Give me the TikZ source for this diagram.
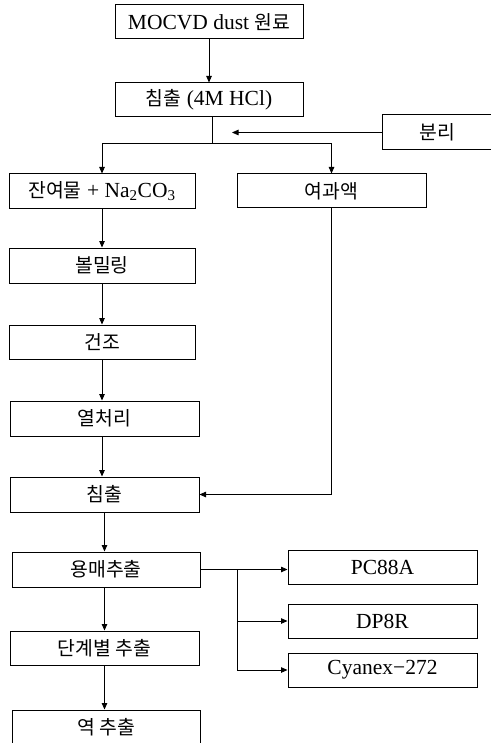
\documentclass[tikz,border=0pt]{standalone}
\usepackage{fontspec}
\setmainfont{Liberation Serif}
\newfontfamily\kr[Scale=0.9]{Noto Sans CJK KR}
\usetikzlibrary{arrows.meta}
\begin{document}
\begin{tikzpicture}[x=1pt,y=-1pt,
	procbox/.style={draw, rectangle, line width=1pt, minimum height=34pt, inner sep=0pt,
		font=\fontsize{21.5}{24}\selectfont},
	flow/.style={line width=0.8pt, -{Triangle[length=6.5pt,width=5.5pt]}}]
	\useasboundingbox (0,0) rectangle (490,743);
	\fill[white] (0,0) rectangle (490,743);
	% colonna centrale in alto
	\node [procbox, minimum width=188pt] (raw) at (209,22) {MOCVD dust {\kr 원료}};
	\node [procbox, minimum width=188pt] (leachA) at (209,100) {{\kr 침출} (4M HCl)};
	\node [procbox, minimum width=110pt, minimum height=35pt] (sep) at (437,132.5) {\kr 분리};
	% colonna sinistra
	\node [procbox, minimum width=186pt, minimum height=35pt] (residue) at (102,191.5) {{\kr 잔여물} + Na\textsubscript{2}CO\textsubscript{3}};
	\node [procbox, minimum width=189pt] (filtrate) at (331.5,191) {\kr 여과액};
	\node [procbox, minimum width=186pt, minimum height=35pt] (ballmill) at (102,265.5) {\kr 볼밀링};
	\node [procbox, minimum width=186pt] (dry) at (102,342) {\kr 건조};
	\node [procbox, minimum width=189pt, minimum height=35pt] (heat) at (104.5,418.5) {\kr 열처리};
	\node [procbox, minimum width=189pt, minimum height=35pt] (leachB) at (104.5,494.5) {\kr 침출};
	\node [procbox, minimum width=188pt, minimum height=35pt] (solvent) at (106,569.5) {\kr 용매추출};
	\node [procbox, minimum width=189pt] (stage) at (104.5,648) {\kr 단계별 추출};
	\node [procbox, minimum width=188pt, minimum height=35pt] (strip) at (106,727.5) {\kr 역 추출};
	% estraenti
	\node [procbox, minimum width=189pt] (pc) at (382.5,567) {PC88A};
	\node [procbox, minimum width=189pt] (dp) at (382.5,621) {DP8R};
	\node [procbox, minimum width=189pt] (cy) at (382.5,670) {Cyanex−272};
	% collegamenti
	\coordinate (split) at (212,143);
	\coordinate (sepend) at (232,132.5);
	\coordinate (branch) at (237,569.5);
	\draw [flow] (raw) -- (leachA);
	\draw [line width=0.8pt] (leachA.south -| split) -- (split);
	\draw [flow] (split) -| (residue.north);
	\draw [flow] (split) -| (filtrate.north);
	\draw [flow] (sep.west) -- (sepend);
	\draw [flow] (residue.south) -- (residue.south |- ballmill.north);
	\draw [flow] (ballmill.south) -- (ballmill.south |- dry.north);
	\draw [flow] (dry.south) -- (dry.south |- heat.north);
	\draw [flow] (heat.south -| dry.south) -- (dry.south |- leachB.north);
	\draw [flow] (filtrate.south) |- (leachB.east);
	\draw [flow] (leachB.south) -- (leachB.south |- solvent.north);
	\draw [flow] (solvent.east) -- (solvent.east -| pc.west);
	\draw [flow] (branch) |- (dp.west);
	\draw [flow] (branch) |- (cy.west);
	\draw [flow] (solvent.south -| leachB.south) -- (leachB.south |- stage.north);
	\draw [flow] (stage.south) -- (stage.south |- strip.north);
\end{tikzpicture}
\end{document}
